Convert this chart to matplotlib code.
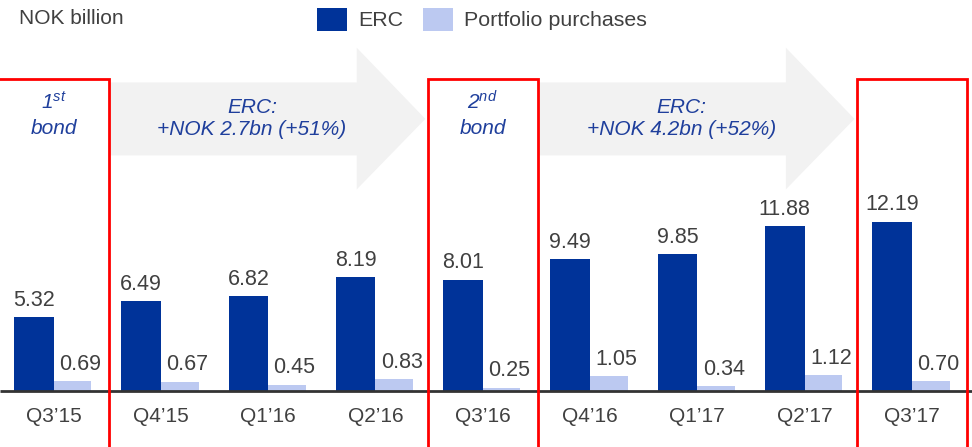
import matplotlib
matplotlib.use("Agg")
import matplotlib.pyplot as plt
from matplotlib.patches import Polygon, Rectangle
import numpy as np

categories = ["Q3\u201915", "Q4\u201915", "Q1\u201916", "Q2\u201916", "Q3\u201916",
              "Q4\u201916", "Q1\u201917", "Q2\u201917", "Q3\u201917"]
erc = [5.32, 6.49, 6.82, 8.19, 8.01, 9.49, 9.85, 11.88, 12.19]
portfolio = [0.69, 0.67, 0.45, 0.83, 0.25, 1.05, 0.34, 1.12, 0.70]
bond_idx = [0, 4, 8]
bond_text = [r"$\mathit{1^{st}}$", r"$\mathit{2^{nd}}$", ""]
arrow_spans = [(0, 4), (4, 8)]
arrow_text = ["ERC:\n+NOK 2.7bn (+51%)", "ERC:\n+NOK 4.2bn (+52%)"]
legend_labels = ["ERC", "Portfolio purchases"]

plt.rcParams['font.family'] = ['Liberation Sans', 'DejaVu Sans']
plt.rcParams['mathtext.fontset'] = 'custom'
plt.rcParams['mathtext.rm'] = 'Liberation Sans:italic'
plt.rcParams['mathtext.it'] = 'Liberation Sans:italic'

C_ERC = "#003399"
C_PP = "#bcc9f1"
C_TXT = "#404040"
C_BLUE = "#1f3f9c"
C_RED = "#ff0000"
C_ARROW = "#f2f2f2"

W, H = 972, 447
fig = plt.figure(figsize=(9.72, 4.47), dpi=100)
ax = fig.add_axes([0, 0, 1, 1])
ax.set_xlim(-0.5, 8.56)
ax.set_ylim(-4.03, 28.13)
ax.axis('off')

x = np.arange(len(categories))
w = 0.37
ax.bar(x - w / 2, erc, width=w, color=C_ERC, zorder=3)
ax.bar(x + w / 2 - 0.01, portfolio, width=w * 0.95, color=C_PP, zorder=3)

for i in range(len(categories)):
    ax.annotate(f"{erc[i]:.2f}", (x[i] - w / 2, erc[i]), xytext=(0, 4.5),
                textcoords='offset points', ha='center', va='bottom',
                fontsize=15.5, color=C_TXT, zorder=5)
    ax.annotate(f"{portfolio[i]:.2f}", (x[i] + w / 2 + 0.06, portfolio[i]), xytext=(0, 4.5),
                textcoords='offset points', ha='center', va='bottom',
                fontsize=15.5, color=C_TXT, zorder=5)
    ax.text(x[i], -1.8, categories[i], ha='center', va='center',
            fontsize=15, color=C_TXT)

# baseline
ax.plot([-0.5, 8.56], [0, 0], color="#333333", lw=2, zorder=4, solid_capstyle='butt')

# arrows
body_lo, body_hi = 16.95, 22.2
head_lo, head_hi = 14.5, 24.7
for (a, b), t in zip(arrow_spans, arrow_text):
    x0 = a + 0.515
    xh = b - 1.175
    xt = b - 0.535
    yc = (body_lo + body_hi) / 2
    poly = Polygon([(x0, body_lo), (xh, body_lo), (xh, head_lo), (xt, yc),
                    (xh, head_hi), (xh, body_hi), (x0, body_hi)],
                   closed=True, facecolor=C_ARROW, edgecolor='none', zorder=1)
    ax.add_patch(poly)
    ax.text((x0 + xh) / 2 + 0.18, yc, t, ha='center', va='center',
            fontsize=15, color=C_BLUE, style='italic', linespacing=1.2, zorder=2)

# red boxes
box_top = 22.45
for i, t in zip(bond_idx, bond_text):
    r = Rectangle((i - 0.515, -6), 1.03, box_top + 6, facecolor='none',
                  edgecolor=C_RED, lw=2, zorder=6, clip_on=True)
    ax.add_patch(r)
    if t:
        ax.text(i, 20.8, t, ha='center', va='center', fontsize=15, color=C_BLUE)
        ax.text(i, 18.9, "bond", ha='center', va='center', fontsize=15,
                color=C_BLUE, style='italic')

# header text
fig.text(19 / W, 1 - 19 / H, "NOK billion", ha='left', va='center',
         fontsize=15, color=C_TXT)

# legend (manual)
leg_colors = [C_ERC, C_PP]
leg_x = [317, 423]
for lx, c, lab in zip(leg_x, leg_colors, legend_labels):
    fig.patches.append(Rectangle((lx / W, 1 - 31 / H), 30 / W, 23 / H,
                                 transform=fig.transFigure, facecolor=c,
                                 edgecolor='none'))
    fig.text((lx + 41) / W, 1 - 20 / H, lab, ha='left', va='center',
             fontsize=15.4, color=C_TXT)

fig.savefig("out.png", dpi=100)
